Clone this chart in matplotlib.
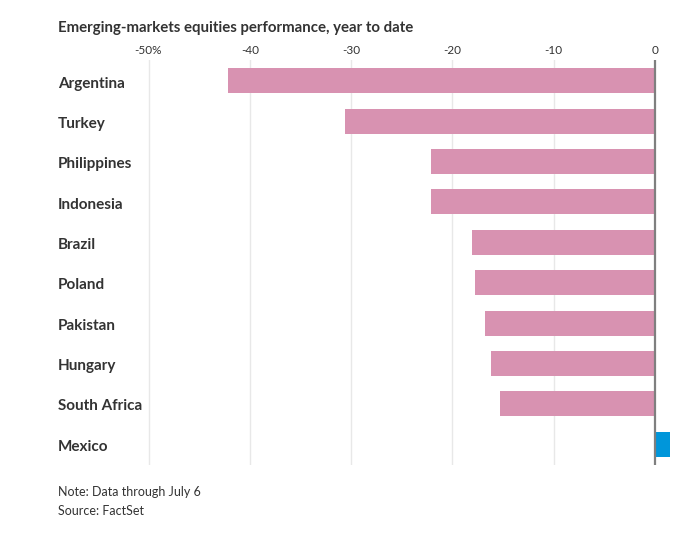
import matplotlib.pyplot as plt

plt.rcParams["font.family"] = ["Lato", "DejaVu Sans"]

countries = ["Argentina", "Turkey", "Philippines", "Indonesia", "Brazil",
             "Poland", "Pakistan", "Hungary", "South Africa", "Mexico"]
perf = [-42.2, -30.6, -22.1, -22.1, -18.1, -17.8, -16.8, -16.2, -15.3, 1.5]
tick_vals = [-50, -40, -30, -20, -10, 0]
tick_labels = ["-50%", "-40", "-30", "-20", "-10", "0"]

PINK = "#d892b1"
BLUE = "#0096da"
TEXT = "#333333"

W, H = 699, 539
fig = plt.figure(figsize=(W / 100, H / 100), dpi=100)
# axes box in pixels: left 140, right 680, top 60, bottom 465
ax = fig.add_axes([140 / W, 1 - 465 / H, 540 / W, 405 / H])

ypos = list(range(len(countries)))
colors = [BLUE if v > 0 else PINK for v in perf]
ax.barh(ypos, perf, height=0.62, color=colors, zorder=2)

ax.set_xlim(-50.84, 2.47)
ax.set_ylim(9.52, -0.52)

for v in tick_vals:
    if v == 0:
        ax.axvline(v, color="#7f7f7f", lw=1.6, zorder=3)
    else:
        ax.axvline(v, color="#e8e8e8", lw=1.0, zorder=1)

ax.xaxis.tick_top()
ax.set_xticks(tick_vals)
ax.set_xticklabels(tick_labels, fontsize=8.5, color=TEXT)
ax.tick_params(axis="x", length=0, pad=3)
ax.set_yticks([])
for s in ax.spines.values():
    s.set_visible(False)

# country names sit at the figure's left margin, aligned to each bar
for i, name in enumerate(countries):
    ax.annotate(name, xy=(58 / W, ypos[i]), xycoords=("figure fraction", "data"),
                xytext=(0, -2), textcoords="offset points",
                fontsize=11, fontweight="bold", color=TEXT, va="center", ha="left",
                annotation_clip=False)

fig.text(58 / W, 1 - 28 / H, "Emerging-markets equities performance, year to date",
         fontsize=10.8, fontweight="bold", color=TEXT, va="center", ha="left")
fig.text(58 / W, 1 - 492 / H, "Note: Data through July 6", fontsize=9,
         color=TEXT, va="center", ha="left")
fig.text(58 / W, 1 - 511 / H, "Source: FactSet", fontsize=9,
         color=TEXT, va="center", ha="left")

fig.savefig("out.png", dpi=100)
